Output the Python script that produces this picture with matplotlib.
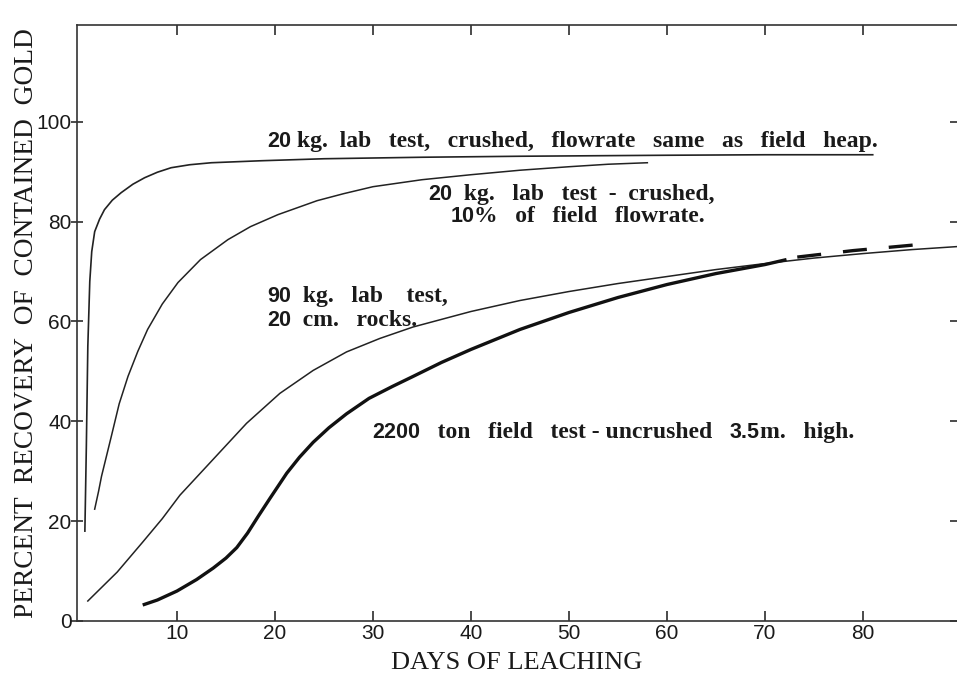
import matplotlib
matplotlib.use("Agg")
import matplotlib.pyplot as plt

# curve readings (days of leaching, percent recovery)
days_fast = [0.6, 0.75, 0.9, 1.1, 1.3, 1.6, 2.1, 2.6, 3.4, 4.3, 5.5, 6.7, 8, 9.4, 11.3,
             13.5, 18.6, 25, 35, 45, 60, 70, 81]
rec_fast = [18, 35, 55, 68, 74, 78, 80.5, 82.4, 84.3, 85.8, 87.5, 88.8, 89.9, 90.8, 91.4,
            91.8, 92.2, 92.6, 92.9, 93.1, 93.3, 93.4, 93.4]

days_slowflow = [1.6, 2.0, 2.3, 2.8, 3.3, 4.1, 5.0, 6.0, 7.0, 8.5, 10.1, 12.4, 15.2, 17.5,
                 20.3, 24.3, 27, 30, 35, 40, 45, 50, 54, 58]
rec_slowflow = [22.4, 26, 29, 33, 37, 43.5, 49, 54, 58.4, 63.5, 67.8, 72.4, 76.4, 79,
                81.4, 84.2, 85.6, 87, 88.4, 89.4, 90.3, 91, 91.5, 91.8]

days_rocks = [0.9, 3.9, 6.5, 8.5, 10.3, 13.7, 17.1, 20.5, 23.9, 27.3, 30.7, 34.1, 40, 45,
              50, 55, 60, 65, 70, 75, 80, 85, 89.6]
rec_rocks = [4, 9.8, 15.8, 20.5, 25.2, 32.4, 39.6, 45.6, 50.2, 53.9, 56.6, 58.9, 62, 64.2,
             66, 67.6, 69, 70.4, 71.6, 72.7, 73.6, 74.4, 75]

days_field = [6.5, 8, 10, 12, 13.7, 15, 16.1, 17.2, 18.3, 19.5, 21.2, 22.5, 23.9, 25.5,
              27.3, 29.6, 32, 34.1, 37, 40, 45, 50, 55, 60, 65, 70, 72.2]
rec_field = [3.2, 4.2, 6, 8.3, 10.6, 12.6, 14.7, 17.6, 21, 24.6, 29.6, 32.8, 35.8, 38.7,
             41.5, 44.6, 47, 49, 51.8, 54.4, 58.4, 61.8, 64.8, 67.4, 69.6, 71.4, 72.4]

# projected part of the field test (dashed)
days_field_ext = [73.3, 79, 85.1]
rec_field_ext = [72.9, 74.2, 75.3]

xticks = [10, 20, 30, 40, 50, 60, 70, 80]
yticks = [0, 20, 40, 60, 80, 100]

SERIF = "Liberation Serif"
SANS = "Liberation Sans"
INK = "#1a1a1a"

fig = plt.figure(figsize=(9.57, 6.73), dpi=100)
ax = fig.add_axes([0.0805, 0.0773, 0.9195, 0.8856])

ax.plot(days_fast, rec_fast, color="#222222", lw=1.2)
ax.plot(days_slowflow, rec_slowflow, color="#222222", lw=1.1)
ax.plot(days_rocks, rec_rocks, color="#222222", lw=1.1)
ax.plot(days_field, rec_field, color="#111111", lw=2.4, solid_capstyle="butt")
ax.plot(days_field_ext, rec_field_ext, color="#111111", lw=2.4,
        dashes=(7.2, 6.6), dash_capstyle="butt")

ax.set_xlim(-0.2, 89.6)
ax.set_ylim(0, 119.4)
ax.spines["right"].set_visible(False)
for s in ["left", "top", "bottom"]:
    ax.spines[s].set_linewidth(1.2)
    ax.spines[s].set_color("#333333")

ax.set_xticks(xticks)
ax.set_xticklabels([str(v) for v in xticks])
ax.set_yticks(yticks)
ax.set_yticklabels([str(v) for v in yticks])
ax.tick_params(axis="x", direction="in", length=7, width=1.1, pad=2,
               top=True, labelsize=15, colors=INK)
ax.tick_params(axis="y", direction="inout", length=8, width=1.1, pad=0,
               labelsize=15, colors=INK)
ax.tick_params(axis="y", right=True)
for t in ax.yaxis.get_major_ticks():
    t.tick2line.set_marker(0)  # inward on the right
    t.tick2line.set_markersize(5)
for lab in ax.get_xticklabels() + ax.get_yticklabels():
    lab.set_family(SANS)

ax.set_xlabel("DAYS OF LEACHING", family=SERIF, fontsize=19, color=INK, labelpad=7)
ax.set_ylabel("PERCENT  RECOVERY  OF  CONTAINED  GOLD", family=SERIF, fontsize=19.7,
              color=INK)
ax.yaxis.set_label_coords(-0.043, 0.5)


def mixed(x, y, pieces, size=17):
    # chain pieces: digits in a sans face, words in a serif face
    t = ax.text(x, y, pieces[0][0], family=pieces[0][1],
                fontsize=size if pieces[0][1] == SERIF else 15.5,
                fontweight="bold", color=INK, va="bottom")
    for s, fam in pieces[1:]:
        t = ax.annotate(s, xy=(1, 0), xycoords=t, family=fam,
                        fontsize=size if fam == SERIF else 15.5,
                        fontweight="bold", color=INK, va="bottom")


mixed(19.2, 94.0, [("20", SANS), (" kg.  lab   test,   crushed,   flowrate   same   as   field   heap.", SERIF)])
mixed(35.6, 83.3, [("20", SANS), ("  kg.   lab   test  -  crushed,", SERIF)])
mixed(37.9, 79.0, [("10", SANS), ("%   of   field   flowrate.", SERIF)])
mixed(19.2, 63.0, [("90", SANS), ("  kg.   lab    test,", SERIF)])
mixed(19.2, 58.0, [("20", SANS), ("  cm.   rocks.", SERIF)])
mixed(29.9, 35.6, [("2200", SANS), ("   ton   field   test - uncrushed   ", SERIF),
                   ("3.5", SANS), ("m.   high.", SERIF)])

fig.savefig("out.png", dpi=100)
